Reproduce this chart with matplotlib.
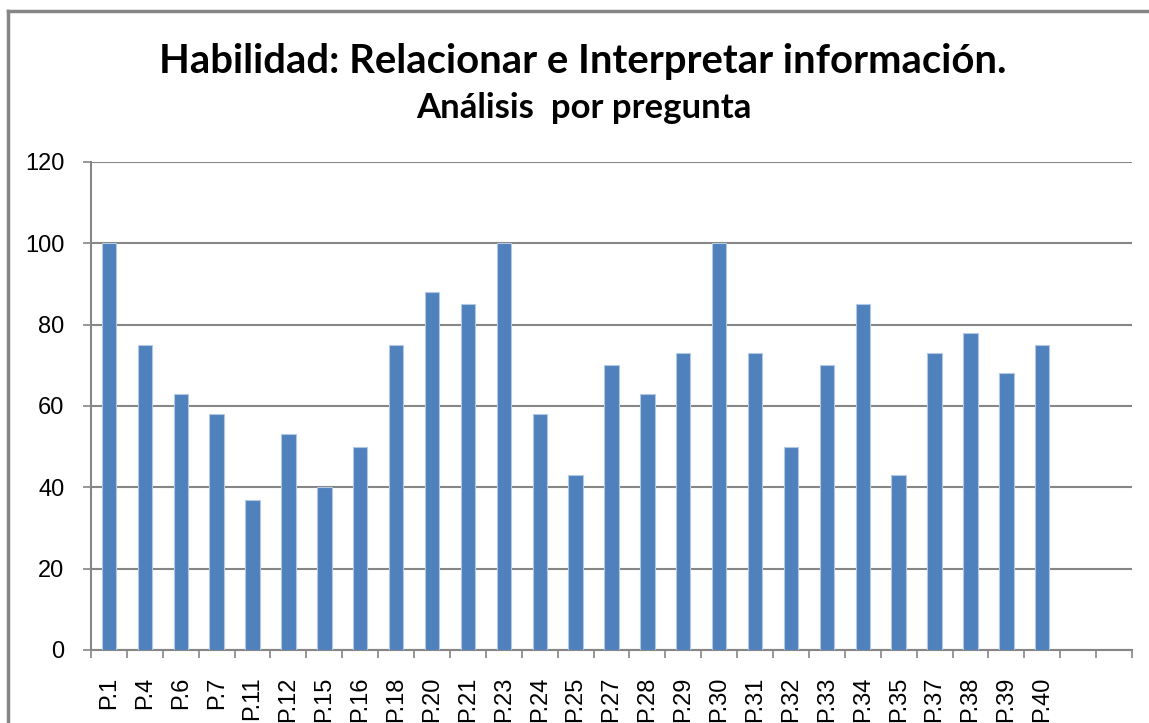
import matplotlib
matplotlib.use('Agg')
import matplotlib.pyplot as plt
from matplotlib.lines import Line2D

# datos
preguntas = ['P.1', 'P.4', 'P.6', 'P.7', 'P.11', 'P.12', 'P.15', 'P.16', 'P.18',
             'P.20', 'P.21', 'P.23', 'P.24', 'P.25', 'P.27', 'P.28', 'P.29', 'P.30',
             'P.31', 'P.32', 'P.33', 'P.34', 'P.35', 'P.37', 'P.38', 'P.39', 'P.40']
porcentaje = [100, 75, 63, 58, 37, 53, 40, 50, 75, 88, 85, 100, 58, 43, 70, 63, 73,
              100, 73, 50, 70, 85, 43, 73, 78, 68, 75]
vacias = 2  # dos categorias vacias al final
y_ticks = [0, 20, 40, 60, 80, 100, 120]

gris = '#868686'
azul = '#4F81BD'

fig = plt.figure(figsize=(11.49, 7.23), dpi=100)
ax = fig.add_axes([91 / 1149, 73 / 723, (1132 - 91) / 1149, (650 - 162) / 723])

x = list(range(len(preguntas)))
ax.bar(x, porcentaje, width=0.4, color=azul, edgecolor='#B4C8E2', linewidth=0.8, zorder=3)

n = len(preguntas) + vacias
ax.set_xlim(-0.5, n - 0.5)
ax.set_ylim(0, 120)
ax.set_yticks(y_ticks)
ax.set_yticklabels([str(v) for v in y_ticks], fontsize=17, family='Liberation Sans')
ax.set_xticks(x)
ax.set_xticklabels(preguntas, rotation=90, fontsize=17, family='Liberation Sans')
ax.set_xticks([i - 0.5 for i in range(n + 1)], minor=True)

ax.tick_params(axis='x', which='major', length=0, pad=19)
ax.tick_params(axis='x', which='minor', length=6, width=1.2, color=gris, direction='out')
ax.tick_params(axis='y', length=6, width=1.2, color=gris, direction='out', pad=13)

ax.grid(axis='y', color=gris, linewidth=1.5, zorder=0)
for s in ['top', 'right']:
    ax.spines[s].set_visible(False)
for s in ['left', 'bottom']:
    ax.spines[s].set_color(gris)
    ax.spines[s].set_linewidth(1.5)

# borde del grafico
fig.add_artist(Line2D([8 / 1149, 1], [1 - 11 / 723, 1 - 11 / 723], color=gris, lw=2.5,
                      transform=fig.transFigure))
fig.add_artist(Line2D([8 / 1149, 8 / 1149], [0, 1 - 11 / 723], color=gris, lw=2.5,
                      transform=fig.transFigure))

fig.text(583 / 1149, 1 - 62 / 723, 'Habilidad: Relacionar e Interpretar información.',
         ha='center', va='center', fontsize=28.8, fontweight='bold', family='Lato')
fig.text(584 / 1149, 1 - 108 / 723, 'Análisis  por pregunta',
         ha='center', va='center', fontsize=25, fontweight='bold', family='Lato')

fig.savefig('out.png', dpi=100)
